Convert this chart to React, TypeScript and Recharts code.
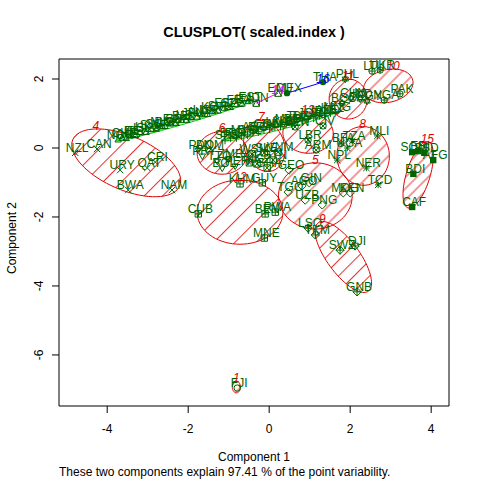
import React from "react"
import { ScatterChart, Scatter, XAxis, YAxis, ReferenceArea } from "recharts"

// axis setup (Component 1 / Component 2)
const xTicks = [-4, -2, 0, 2, 4]
const yTicks = [-6, -4, -2, 0, 2]
const xDomain = [-5.19, 4.44]
const yDomain = [-7.48, 2.58]

// country scores, one array per cluster
const cluster1 = [{ name: "FJI", x: -0.79, y: -6.96 }]

const cluster2 = [
  { name: "NOR", x: -3.73, y: 0.23 }, { name: "CHE", x: -3.63, y: 0.28 },
  { name: "AUS", x: -3.53, y: 0.27 }, { name: "IRL", x: -3.41, y: 0.36 },
  { name: "DEU", x: -3.31, y: 0.35 }, { name: "ISL", x: -3.19, y: 0.44 },
  { name: "HKG", x: -3.04, y: 0.45 }, { name: "SWE", x: -2.91, y: 0.53 },
  { name: "SGP", x: -2.79, y: 0.54 }, { name: "NLD", x: -2.69, y: 0.61 },
  { name: "DNK", x: -2.57, y: 0.62 }, { name: "FIN", x: -2.44, y: 0.69 },
  { name: "GBR", x: -2.3, y: 0.71 }, { name: "BEL", x: -2.17, y: 0.79 },
  { name: "USA", x: -2.05, y: 0.8 }, { name: "JPN", x: -1.93, y: 0.87 },
  { name: "AUT", x: -1.78, y: 0.89 }, { name: "LUX", x: -1.65, y: 0.96 },
  { name: "ISR", x: -1.53, y: 0.97 }, { name: "KOR", x: -1.41, y: 1.05 },
  { name: "SVN", x: -1.26, y: 1.07 }, { name: "ESP", x: -1.11, y: 1.15 },
  { name: "CZE", x: -0.96, y: 1.17 }, { name: "FRA", x: -0.81, y: 1.25 },
  { name: "ITA", x: -0.67, y: 1.27 }, { name: "EST", x: -0.52, y: 1.34 },
]

const cluster3 = [
  { name: "SRB", x: -1.09, y: 0.23 }, { name: "BGR", x: -0.95, y: 0.29 },
  { name: "ROU", x: -0.81, y: 0.3 }, { name: "MYS", x: -0.68, y: 0.37 },
  { name: "CHL", x: -0.54, y: 0.38 }, { name: "ARG", x: -0.4, y: 0.46 },
  { name: "BRA", x: -0.27, y: 0.47 }, { name: "COL", x: -0.13, y: 0.54 },
  { name: "JAM", x: 0.01, y: 0.55 }, { name: "LKA", x: 0.14, y: 0.62 },
  { name: "ALB", x: 0.28, y: 0.63 }, { name: "MKD", x: 0.42, y: 0.7 },
  { name: "BIH", x: 0.55, y: 0.71 }, { name: "TUN", x: 0.69, y: 0.78 },
  { name: "DZA", x: 0.83, y: 0.79 }, { name: "JOR", x: 0.96, y: 0.86 },
  { name: "LBN", x: 1.1, y: 0.87 }, { name: "IRN", x: 1.24, y: 0.94 },
  { name: "AZE", x: 1.37, y: 0.95 }, { name: "KAZ", x: 1.51, y: 1.02 },
  { name: "MNG", x: 1.63, y: 1.03 },
]

const cluster4 = [
  { name: "NZL", x: -4.79, y: -0.14 }, { name: "CAN", x: -4.25, y: -0.03 },
  { name: "URY", x: -3.68, y: -0.64 }, { name: "QAT", x: -3.01, y: -0.58 },
  { name: "CRI", x: -2.81, y: -0.41 }, { name: "BWA", x: -3.48, y: -1.22 },
  { name: "NAM", x: -2.4, y: -1.22 },
]

const cluster5 = [
  { name: "GEO", x: 0.49, y: -0.64 }, { name: "TGO", x: 0.47, y: -1.28 },
  { name: "AGO", x: 0.81, y: -1.1 }, { name: "GIN", x: 0.99, y: -1.01 },
  { name: "UZB", x: 0.89, y: -1.51 }, { name: "PNG", x: 1.31, y: -1.65 },
  { name: "MDG", x: 1.83, y: -1.3 }, { name: "KEN", x: 2.0, y: -1.3 },
]

const cluster6 = [
  { name: "PAN", x: -1.75, y: -0.06 }, { name: "DOM", x: -1.51, y: -0.06 },
  { name: "PRY", x: -1.65, y: -0.23 }, { name: "TTO", x: -1.28, y: -0.38 },
  { name: "ZMB", x: -1.01, y: -0.32 }, { name: "PER", x: -0.84, y: -0.52 },
  { name: "BOL", x: -1.16, y: -0.58 },
]

const cluster7 = [
  { name: "WSM", x: -0.42, y: -0.17 }, { name: "SLE", x: -0.12, y: -0.14 },
  { name: "BTN", x: 0.1, y: -0.35 }, { name: "KGZ", x: -0.3, y: -0.46 },
  { name: "GHA", x: -0.05, y: -0.58 }, { name: "TJK", x: -0.49, y: -0.43 },
  { name: "VNM", x: 0.22, y: -0.12 },
]

const cluster8 = [
  { name: "BFA", x: 1.78, y: 0.14 }, { name: "TZA", x: 2.05, y: 0.2 },
  { name: "UGA", x: 1.93, y: 0.0 }, { name: "NPL", x: 1.68, y: -0.35 },
  { name: "MLI", x: 2.67, y: 0.35 }, { name: "NER", x: 2.4, y: -0.58 },
  { name: "TCD", x: 2.69, y: -1.07 },
]

const cluster9 = [
  { name: "LSO", x: 0.96, y: -2.32 }, { name: "TKM", x: 1.14, y: -2.52 },
  { name: "SWZ", x: 1.75, y: -2.96 }, { name: "DJI", x: 2.12, y: -2.84 },
  { name: "GNB", x: 2.17, y: -4.17 },
]

const cluster10 = [
  { name: "LTU", x: 2.54, y: 2.23 }, { name: "UKR", x: 2.74, y: 2.26 },
  { name: "PAK", x: 3.23, y: 1.57 }, { name: "NGA", x: 2.84, y: 1.39 },
]

const cluster11 = [
  { name: "PHL", x: 1.88, y: 2.0 }, { name: "CHN", x: 2.02, y: 1.45 },
  { name: "IND", x: 2.25, y: 1.42 }, { name: "BGD", x: 1.8, y: 1.3 },
  { name: "EGY", x: 2.42, y: 1.36 },
]

const cluster12 = [
  { name: "KHM", x: -0.72, y: -1.04 }, { name: "GUY", x: -0.17, y: -1.01 },
  { name: "CUB", x: -1.75, y: -1.91 }, { name: "BEN", x: -0.1, y: -1.91 },
  { name: "RWA", x: 0.15, y: -1.86 }, { name: "MNE", x: -0.12, y: -2.61 },
]

const cluster13 = [
  { name: "LBR", x: 0.96, y: 0.23 }, { name: "ARM", x: 1.16, y: -0.06 },
  { name: "CIV", x: 1.33, y: 0.64 }, { name: "SEN", x: 0.64, y: 0.61 },
]

const cluster14 = [
  { name: "IDN", x: -0.32, y: 1.3 }, { name: "ECU", x: 0.22, y: 1.59 },
]

const cluster15 = [
  { name: "SOM", x: 3.53, y: -0.12 }, { name: "ERI", x: 3.68, y: -0.09 },
  { name: "SSD", x: 3.83, y: -0.14 }, { name: "AFG", x: 4.05, y: -0.35 },
  { name: "BDI", x: 3.56, y: -0.75 }, { name: "CAF", x: 3.53, y: -1.71 },
]

const cluster16 = [
  { name: "MEX", x: 0.44, y: 1.59 }, { name: "THA", x: 1.33, y: 1.91 },
]

// spanning ellipses: centre and two conjugate semi-axes, in component units
const ellipse1 = { cx: -0.81, cy: -6.93, ux: 0.1, uy: 0, vx: 0, vy: -0.17 }
const ellipse2 = { cx: -2.125, cy: 0.785, ux: 1.65, uy: 0.566, vx: -0.03, vy: 0.09 }
const ellipse3 = { cx: 0.27, cy: 0.63, ux: 1.4, uy: 0.42, vx: -0.03, vy: 0.09 }
const ellipse4 = { cx: -3.53, cy: -0.43, ux: 1.32, uy: -0.67, vx: -0.26, vy: -0.72 }
const ellipse5 = { cx: 1.14, cy: -1.39, ux: 0.91, uy: 0, vx: 0, vy: -0.96 }
const ellipse6 = { cx: -1.16, cy: -0.14, ux: 0.62, uy: 0, vx: 0, vy: -0.62 }
const ellipse7 = { cx: -0.12, cy: 0.06, ux: 0.47, uy: 0.17, vx: 0.2, vy: -0.72 }
const ellipse8 = { cx: 2.32, cy: -0.23, ux: 0.64, uy: -0.14, vx: -0.1, vy: -0.84 }
const ellipse9 = { cx: 1.83, cy: -3.16, ux: 0.62, uy: -0.99, vx: -0.32, vy: -0.28 }
const ellipse10 = { cx: 2.94, cy: 1.8, ux: 0.6, uy: 0, vx: -0.12, vy: -0.49 }
const ellipse11 = { cx: 1.95, cy: 1.42, ux: 0.47, uy: 0, vx: 0, vy: -0.58 }
const ellipse12 = { cx: -0.72, cy: -1.86, ux: 1.06, uy: 0, vx: 0, vy: -0.93 }
const ellipse13 = { cx: 0.96, cy: 0.43, ux: 0.62, uy: -0.06, vx: -0.05, vy: -0.58 }
const ellipse15 = { cx: 3.68, cy: -0.78, ux: 0.25, uy: 0.96, vx: 0.28, vy: -0.1 }

const RED = "#e00000"
const GREEN = "#00cd00"
const BLUE = "#0000ff"
const MAGENTA = "#ff00ff"
const POINT = "#006400"
const FONT = "'Liberation Sans', Arial, Helvetica, sans-serif"

// hatch = gap between shading lines in px (denser clusters get tighter shading)
const clusters = [
  { id: 1, color: RED, points: cluster1, ellipse: ellipse1, hatch: 8 },
  { id: 2, color: GREEN, points: cluster2, ellipse: ellipse2, hatch: 6 },
  { id: 3, color: GREEN, points: cluster3, ellipse: ellipse3, hatch: 6 },
  { id: 4, color: RED, points: cluster4, ellipse: ellipse4, hatch: 13 },
  { id: 5, color: RED, points: cluster5, ellipse: ellipse5, hatch: 12 },
  { id: 6, color: RED, points: cluster6, ellipse: ellipse6, hatch: 9 },
  { id: 7, color: RED, points: cluster7, ellipse: ellipse7, hatch: 9 },
  { id: 8, color: RED, points: cluster8, ellipse: ellipse8, hatch: 10 },
  { id: 9, color: RED, points: cluster9, ellipse: ellipse9, hatch: 11 },
  { id: 10, color: RED, points: cluster10, ellipse: ellipse10, hatch: 10 },
  { id: 11, color: RED, points: cluster11, ellipse: ellipse11, hatch: 9 },
  { id: 12, color: RED, points: cluster12, ellipse: ellipse12, hatch: 15 },
  { id: 13, color: RED, points: cluster13, ellipse: ellipse13, hatch: 11 },
  { id: 14, color: MAGENTA, points: cluster14, ellipse: null, hatch: 0 },
  { id: 15, color: RED, points: cluster15, ellipse: ellipse15, hatch: 8 },
  { id: 16, color: BLUE, points: cluster16, ellipse: null, hatch: 0 },
]

function outline(e: any) {
  const pts = []
  const n = 72
  for (let i = 0; i <= n; i++) {
    const t = (2 * Math.PI * i) / n
    pts.push({
      x: e.cx + e.ux * Math.cos(t) + e.vx * Math.sin(t),
      y: e.cy + e.uy * Math.cos(t) + e.vy * Math.sin(t),
    })
  }
  return pts
}

function topPoint(pts: any[]) {
  return pts.reduce((a, b) => (b.y > a.y ? b : a))
}

// R plotting symbols pch 1..16
function Marker({ pch, cx, cy }: { pch: number; cx: number; cy: number }) {
  const r = 3.2
  const s = { stroke: POINT, strokeWidth: 1, fill: "none" }
  const sq = `M${cx - r},${cy - r}H${cx + r}V${cy + r}H${cx - r}Z`
  const plus = `M${cx - r},${cy}H${cx + r}M${cx},${cy - r}V${cy + r}`
  const cross = `M${cx - r},${cy - r}L${cx + r},${cy + r}M${cx - r},${cy + r}L${cx + r},${cy - r}`
  const up = `M${cx},${cy - r * 1.15}L${cx + r},${cy + r * 0.6}L${cx - r},${cy + r * 0.6}Z`
  const down = `M${cx},${cy + r * 1.15}L${cx + r},${cy - r * 0.6}L${cx - r},${cy - r * 0.6}Z`
  const d = r * 1.3
  const diamond = `M${cx},${cy - d}L${cx + d},${cy}L${cx},${cy + d}L${cx - d},${cy}Z`
  switch (pch) {
    case 1: return <circle cx={cx} cy={cy} r={r} {...s} />
    case 2: return <path d={up} {...s} />
    case 3: return <path d={`M${cx - d},${cy}H${cx + d}M${cx},${cy - d}V${cy + d}`} {...s} />
    case 4: return <path d={cross} {...s} />
    case 5: return <path d={diamond} {...s} />
    case 6: return <path d={down} {...s} />
    case 7: return <path d={sq + cross} {...s} />
    case 8: return <path d={plus + cross} {...s} />
    case 9: return <path d={diamond + `M${cx - d},${cy}H${cx + d}M${cx},${cy - d}V${cy + d}`} {...s} />
    case 10: return <g><circle cx={cx} cy={cy} r={r} {...s} /><path d={plus} {...s} /></g>
    case 11: return <path d={up + down} {...s} />
    case 12: return <path d={sq + plus} {...s} />
    case 13: return <g><circle cx={cx} cy={cy} r={r} {...s} /><path d={cross} {...s} /></g>
    case 14: return <path d={sq + `M${cx - r},${cy + r}L${cx},${cy - r}L${cx + r},${cy + r}`} {...s} />
    case 15: return <rect x={cx - r} y={cy - r} width={2 * r} height={2 * r} fill={POINT} />
    default: return <circle cx={cx} cy={cy} r={r} fill={POINT} />
  }
}

const XTick = (p: any) => (
  <text x={p.x} y={p.y + 18} textAnchor="middle" fontSize={12} fontFamily={FONT} fill="#000">
    {p.payload.value}
  </text>
)

const YTick = (p: any) => (
  <text
    x={p.x - 7}
    y={p.y}
    transform={`rotate(-90, ${p.x - 7}, ${p.y})`}
    textAnchor="middle"
    fontSize={12}
    fontFamily={FONT}
    fill="#000"
  >
    {p.payload.value}
  </text>
)

const none = () => <g />

export default function App() {
  return (
    <div style={{ position: "absolute", left: 0, top: 0, width: 480, height: 480, background: "#fff" }}>
      <svg width={0} height={0} style={{ position: "absolute" }}>
        <defs>
          {clusters
            .filter((c) => c.ellipse)
            .map((c) => (
              <pattern
                key={c.id}
                id={`hatch-${c.id}`}
                patternUnits="userSpaceOnUse"
                width={c.hatch}
                height={c.hatch}
                patternTransform="rotate(45)"
              >
                <line x1={c.hatch / 2} y1={0} x2={c.hatch / 2} y2={c.hatch} stroke={c.color} strokeWidth={0.8} />
              </pattern>
            ))}
        </defs>
      </svg>
      <ScatterChart width={480} height={480} margin={{ top: 59, right: 31, bottom: 0, left: 0 }}>
        <XAxis
          type="number"
          dataKey="x"
          domain={xDomain}
          ticks={xTicks}
          interval={0}
          allowDataOverflow
          axisLine={false}
          tickSize={7}
          tickLine={{ stroke: "#000" }}
          tick={XTick}
          height={74}
        />
        <YAxis
          type="number"
          dataKey="y"
          domain={yDomain}
          ticks={yTicks}
          interval={0}
          allowDataOverflow
          axisLine={false}
          tickSize={7}
          tickLine={{ stroke: "#000" }}
          tick={YTick}
          width={59}
        />
        <ReferenceArea
          x1={xDomain[0]}
          x2={xDomain[1]}
          y1={yDomain[0]}
          y2={yDomain[1]}
          fill="none"
          stroke="#000"
          strokeWidth={1}
        />
        {clusters.map((c) => (
          <Scatter
            key={`shape-${c.id}`}
            data={c.ellipse ? outline(c.ellipse) : c.points}
            shape={none}
            line={{
              stroke: c.color,
              strokeWidth: 1,
              fill: c.ellipse ? `url(#hatch-${c.id})` : "none",
            }}
            lineType="joint"
            isAnimationActive={false}
          />
        ))}
        {clusters.map((c) => (
          <Scatter
            key={`pts-${c.id}`}
            data={c.points}
            isAnimationActive={false}
            shape={(p: any) => (
              <g>
                <Marker pch={c.id} cx={p.cx} cy={p.cy} />
                <text x={p.cx + 2} y={p.cy - 1} textAnchor="middle" fontSize={12} fontFamily={FONT} fill={POINT}>
                  {p.payload.name}
                </text>
              </g>
            )}
          />
        ))}
        {clusters
          .filter((c) => c.id !== 2 && c.id !== 3)
          .map((c) => {
            const top = topPoint(c.ellipse ? outline(c.ellipse) : c.points)
            return (
              <Scatter
                key={`lab-${c.id}`}
                data={[{ x: top.x, y: top.y, label: String(c.id) }]}
                isAnimationActive={false}
                shape={(p: any) => (
                  <text
                    x={p.cx}
                    y={p.cy + 1}
                    textAnchor="middle"
                    fontSize={12}
                    fontStyle="italic"
                    fontFamily={FONT}
                    fill={c.color}
                  >
                    {p.payload.label}
                  </text>
                )}
              />
            )
          })}
      </ScatterChart>
      <svg width={480} height={480} style={{ position: "absolute", left: 0, top: 0, pointerEvents: "none" }}>
        <text x={254} y={37} textAnchor="middle" fontSize={14.4} fontWeight="bold" fontFamily={FONT} fill="#000">
          CLUSPLOT( scaled.index )
        </text>
        <text x={254} y={461} textAnchor="middle" fontSize={12} fontFamily={FONT} fill="#000">
          Component 1
        </text>
        <text x={59} y={476} textAnchor="start" fontSize={12} fontFamily={FONT} fill="#000">
          These two components explain 97.41 % of the point variability.
        </text>
        <text x={16} y={238} transform="rotate(-90, 16, 238)" textAnchor="middle" fontSize={12} fontFamily={FONT} fill="#000">
          Component 2
        </text>
      </svg>
    </div>
  )
}
